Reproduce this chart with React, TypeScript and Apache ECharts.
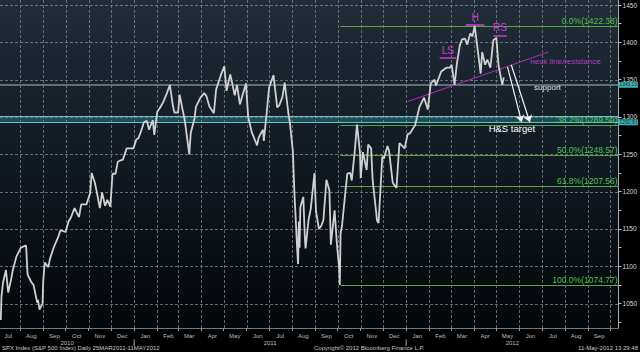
import React, { useEffect, useRef } from "react";
import * as echarts from "echarts";

// ---- price data (S&P 500) ----
const priceDates = [
  "2010-07-06","2010-07-07","2010-07-09","2010-07-13","2010-07-16","2010-07-20","2010-07-22","2010-07-27",
  "2010-08-02","2010-08-09","2010-08-11","2010-08-16","2010-08-19","2010-08-24","2010-08-25","2010-08-27","2010-08-30","2010-08-31",
  "2010-09-01","2010-09-03","2010-09-08","2010-09-10","2010-09-15","2010-09-21","2010-09-24","2010-09-28",
  "2010-10-01","2010-10-05","2010-10-08","2010-10-13","2010-10-19","2010-10-22","2010-10-29",
  "2010-11-03","2010-11-05","2010-11-09","2010-11-12","2010-11-16","2010-11-19","2010-11-23","2010-11-26","2010-11-30",
  "2010-12-03","2010-12-07","2010-12-10","2010-12-14","2010-12-17","2010-12-22","2010-12-28","2010-12-31",
  "2011-01-04","2011-01-07","2011-01-12","2011-01-14","2011-01-18","2011-01-21","2011-01-26","2011-01-28",
  "2011-02-01","2011-02-04","2011-02-09","2011-02-14","2011-02-18","2011-02-22","2011-02-24",
  "2011-03-01","2011-03-03","2011-03-07","2011-03-10","2011-03-16","2011-03-18","2011-03-23","2011-03-25","2011-03-31",
  "2011-04-05","2011-04-08","2011-04-12","2011-04-18","2011-04-21","2011-04-27",
  "2011-05-02","2011-05-05","2011-05-10","2011-05-16","2011-05-19","2011-05-23","2011-05-27","2011-05-31",
  "2011-06-03","2011-06-08","2011-06-15","2011-06-17","2011-06-20","2011-06-23","2011-06-24","2011-06-28",
  "2011-07-01","2011-07-07","2011-07-12","2011-07-15","2011-07-19","2011-07-22","2011-07-27","2011-07-29",
  "2011-08-02","2011-08-04","2011-08-08","2011-08-09","2011-08-10","2011-08-11","2011-08-12","2011-08-16","2011-08-18","2011-08-19","2011-08-23","2011-08-26","2011-08-31",
  "2011-09-02","2011-09-06","2011-09-09","2011-09-12","2011-09-16","2011-09-20","2011-09-22","2011-09-27","2011-09-30",
  "2011-10-03","2011-10-04","2011-10-05","2011-10-07","2011-10-11","2011-10-14","2011-10-18","2011-10-20","2011-10-24","2011-10-27","2011-10-31",
  "2011-11-01","2011-11-04","2011-11-09","2011-11-11","2011-11-15","2011-11-17","2011-11-23","2011-11-25","2011-11-30",
  "2011-12-02","2011-12-07","2011-12-09","2011-12-14","2011-12-19","2011-12-23","2011-12-30",
  "2012-01-03","2012-01-06","2012-01-13","2012-01-19","2012-01-25","2012-01-30",
  "2012-02-03","2012-02-08","2012-02-10","2012-02-17","2012-02-24","2012-02-29",
  "2012-03-02","2012-03-06","2012-03-09","2012-03-13","2012-03-16","2012-03-20","2012-03-23","2012-03-27","2012-03-30",
  "2012-04-02","2012-04-05","2012-04-10","2012-04-12","2012-04-16","2012-04-19","2012-04-23","2012-04-27",
  "2012-05-01","2012-05-04","2012-05-09","2012-05-11",
];
const priceValues = [
  1028,1060,1078,1095,1065,1083,1094,1113,
  1125,1128,1089,1079,1075,1051,1055,1042,1048,1049,
  1080,1105,1099,1110,1125,1139,1148,1147,
  1146,1160,1165,1178,1166,1183,1183,
  1198,1225,1213,1199,1178,1199,1181,1189,1180,
  1224,1224,1240,1242,1243,1258,1258,1258,
  1270,1272,1286,1293,1295,1283,1296,1276,
  1307,1311,1320,1332,1343,1315,1306,
  1306,1330,1310,1295,1250,1279,1298,1314,1326,
  1332,1328,1314,1305,1337,1355,
  1368,1335,1357,1329,1343,1317,1331,1345,
  1300,1279,1262,1272,1278,1283,1268,1307,
  1339,1356,1313,1316,1327,1346,1305,1292,
  1254,1200,1119,1103,1160,1125,1179,1193,1140,1124,1162,1177,1225,
  1174,1150,1154,1162,1216,1202,1129,1175,1131,
  1099,1075,1144,1155,1195,1224,1225,1215,1254,1290,1253,
  1218,1253,1229,1263,1258,1216,1161,1158,1247,
  1244,1261,1255,1212,1205,1265,1258,
  1277,1278,1289,1314,1326,1310,
  1345,1350,1342,1361,1366,1366,
  1370,1343,1371,1396,1404,1405,1397,1412,1408,
  1422,1398,1358,1387,1370,1377,1366,1403,
  1406,1369,1343,1353,
];

// ---- fibonacci retracement levels ----
const fibLabels = ["0.0%", "38.2%", "50.0%", "61.8%", "100.0%"];
const fibValues = [1422.38, 1289.59, 1248.57, 1207.56, 1074.77];
const fibStart = "2011-10-04";

// ---- axis ticks / labels ----
const yTickLabels = [1050, 1100, 1150, 1200, 1250, 1300, 1350, 1400, 1450];
const yMinorTicks = [1025, 1050, 1075, 1100, 1125, 1150, 1175, 1200, 1225, 1250, 1275, 1300, 1325, 1350, 1375, 1400, 1425, 1450];
const monthLabels = [
  "Jul","Aug","Sep","Oct","Nov","Dec",
  "Jan","Feb","Mar","Apr","May","Jun","Jul","Aug","Sep","Oct","Nov","Dec",
  "Jan","Feb","Mar","Apr","May","Jun","Jul","Aug","Sep",
];
const yearLabels = ["2010", "2011", "2012"];
const X_MIN = "2010-07-05";
const X_MAX = "2012-10-12";
const Y_MIN = 1017.4;
const Y_MAX = 1456.7;

// ---- horizontal levels ----
const supportLevel = 1343.13;
const bandLow = 1292.9;
const bandHigh = 1301.0;
const lastPrice = 1353.39;

// ---- annotations (data coordinates) ----
const necklineStart: [string, number] = ["2012-01-04", 1321];
const necklineEnd: [string, number] = ["2012-07-10", 1387];
const shoulderNames = ["LS", "H", "RS"];
const shoulderStarts = ["2012-02-15", "2012-03-21", "2012-04-27"];
const shoulderEnds = ["2012-03-08", "2012-04-15", "2012-05-15"];
const shoulderLevels = [1379, 1423, 1408.5];
const arrowStarts: [string, number][] = [["2012-05-16", 1367], ["2012-05-21", 1370]];
const arrowEnds: [string, number][] = [["2012-06-04", 1293], ["2012-06-15", 1293]];

const ts = (s: string) => {
  const [y, m, d] = s.split("-").map(Number);
  return new Date(y, m - 1, d).getTime();
};

export default function App() {
  const ref = useRef<HTMLDivElement>(null);
  useEffect(() => {
    document.body.style.margin = "0";
    const chart = echarts.init(ref.current!, null, { renderer: "svg" });
    const font = "Liberation Sans";
    const green = "#4cc24c";
    const fibLine = "#55a84a";
    const magenta = "#d13ad6";
    const gridColor = "#7e8993";
    const data = priceDates.map((d, i) => [ts(d), priceValues[i]]);
    // month boundaries within the x range (from the month label list)
    const monthStarts = monthLabels.map((_, i) => new Date(2010, 7 + i, 1).getTime()).filter((t) => t < ts(X_MAX));
    const boxLabel = (text: string, bg: string, fg: string, extra: any = {}) => ({
      show: true, position: "end", distance: 0, formatter: text,
      color: fg, backgroundColor: bg, fontSize: 4.8, fontFamily: font, padding: [1, 1, 0, 1], ...extra,
    });

    const option: any = {
      animation: false,
      backgroundColor: "#000",
      color: ["#cccccc"],
      grid: {
        left: 0, top: 0, right: 19, bottom: 24, show: true, borderWidth: 0,
        backgroundColor: new echarts.graphic.LinearGradient(0, 0, 0, 1, [
          { offset: 0, color: "#212d38" },
          { offset: 0.5, color: "#111921" },
          { offset: 1, color: "#04070a" },
        ]),
      },
      xAxis: {
        type: "time",
        min: ts(X_MIN), max: ts(X_MAX),
        axisLine: { show: true, lineStyle: { color: "#777", width: 1 } },
        axisTick: { show: true, length: 3, customValues: monthStarts, lineStyle: { color: "#999" } },
        axisLabel: { show: false },
        splitLine: { show: false },
      },
      yAxis: {
        type: "value", position: "right", min: Y_MIN, max: Y_MAX,
        axisLine: { show: true, lineStyle: { color: "#a9adb1", width: 1 } },
        axisTick: { show: true, length: 3, customValues: yMinorTicks, lineStyle: { color: "#bbb" } },
        axisLabel: { customValues: yTickLabels, formatter: (v: number) => String(Math.round(v)), color: "#d6d6d6", fontSize: 6.5, fontFamily: font, margin: 4 },
        splitLine: { show: false },
      },
      series: [
        {
          name: "hgrid", type: "custom", z: 1, silent: true, clip: false,
          data: yTickLabels.map((v) => [ts(X_MIN), v]),
          renderItem: (params: any, api: any) => {
            const cs = params.coordSys;
            const y = Math.round(api.coord([api.value(0), api.value(1)])[1]) + 0.5;
            return { type: "line", shape: { x1: cs.x, y1: y, x2: cs.x + cs.width, y2: y }, style: { stroke: gridColor, lineWidth: 1, lineDash: [3, 2], opacity: 0.75 } };
          },
        },
        {
          name: "vgrid", type: "custom", z: 1, silent: true, clip: false,
          data: monthStarts.map((t) => [t, Y_MIN]),
          renderItem: (params: any, api: any) => {
            const cs = params.coordSys;
            const x = Math.round(api.coord([api.value(0), api.value(1)])[0]) + 0.5;
            return { type: "line", shape: { x1: x, y1: cs.y, x2: x, y2: cs.y + cs.height }, style: { stroke: gridColor, lineWidth: 1, lineDash: [3, 2], opacity: 0.75 } };
          },
        },
        {
          name: "band", type: "line", data: [], z: 2, silent: true,
          markArea: {
            silent: true,
            itemStyle: { color: "rgba(55,150,160,0.38)" },
            data: [[{ yAxis: bandLow }, { yAxis: bandHigh }]],
          },
          markLine: {
            silent: true, symbol: ["none", "none"],
            lineStyle: { color: "#5ec8c8", type: "solid", width: 1.2 },
            data: [
              { yAxis: bandLow, lineStyle: { color: "#5ec8c8", type: "solid", width: 1.2 }, label: boxLabel(bandLow.toFixed(2), "#3fb0b0", "#0b3b3d") },
              { yAxis: bandHigh, lineStyle: { color: "#5ec8c8", type: "solid", width: 1.2 }, label: { show: false } },
            ],
          },
        },
        {
          name: "fib", type: "custom", z: 3, silent: true, clip: false,
          data: fibValues.map((v, i) => [ts(fibStart), v, i]),
          renderItem: (params: any, api: any) => {
            const cs = params.coordSys;
            const p = api.coord([api.value(0), api.value(1)]);
            const y = Math.round(p[1]) + 0.5;
            const i = api.value(2);
            const right = cs.x + cs.width;
            return {
              type: "group",
              children: [
                { type: "line", shape: { x1: Math.round(p[0]) + 0.5, y1: y, x2: right, y2: y }, style: { stroke: fibLine, lineWidth: 1 } },
                {
                  type: "text",
                  style: {
                    text: `${fibLabels[i]}(${fibValues[i].toFixed(2)})`, x: right - 1, y: y - 1.5,
                    fill: green, fontSize: 8.5, fontFamily: font, textAlign: "right", textVerticalAlign: "bottom",
                  },
                },
              ],
            };
          },
        },
        {
          name: "support", type: "line", data: [], z: 3, silent: true,
          markLine: {
            silent: true, symbol: ["none", "none"],
            lineStyle: { color: "#6f8b8e", type: "solid", width: 1.5 },
            data: [{
              yAxis: supportLevel,
              lineStyle: { color: "#6f8b8e", type: "solid", width: 1.5 },
              label: boxLabel(supportLevel.toFixed(2), "#3fb0b0", "#0b3b3d"),
            }],
          },
        },
        {
          name: "last", type: "line", data: [], z: 3, silent: true,
          markLine: {
            silent: true, symbol: ["none", "none"],
            lineStyle: { opacity: 0 },
            data: [{
              yAxis: lastPrice,
              lineStyle: { opacity: 0 },
              label: boxLabel(lastPrice.toFixed(2), "#f2f2f2", "#222", { offset: [0, -4] }),
            }],
          },
        },
        {
          name: "SPX", type: "line", data, z: 5, showSymbol: false, silent: true,
          lineStyle: { color: "#d0d0d0", width: 1.8 },
        },
        {
          name: "pattern", type: "line", data: [], z: 6, silent: true,
          markLine: {
            silent: true, symbol: ["none", "none"],
            data: [
              [
                { coord: [ts(necklineStart[0]), necklineStart[1]], lineStyle: { color: "#b02cc0", width: 1, type: "solid" }, label: { show: false } },
                { coord: [ts(necklineEnd[0]), necklineEnd[1]] },
              ],
              ...shoulderNames.map((n, i) => [
                {
                  coord: [ts(shoulderStarts[i]), shoulderLevels[i]],
                  lineStyle: { color: magenta, width: 1.5, type: "solid" },
                  label: { show: true, formatter: n, position: "insideMiddleTop", distance: 3, color: magenta, fontSize: 10, fontFamily: font },
                },
                { coord: [ts(shoulderEnds[i]), shoulderLevels[i]] },
              ]),
            ],
          },
          markPoint: {
            silent: true, symbol: "circle", symbolSize: 1,
            itemStyle: { color: "rgba(0,0,0,0)" },
            data: [
              { coord: [ts("2012-06-15"), 1375], label: { show: true, position: "right", distance: 0, formatter: "neck line/resistance", color: "#b63bc6", fontSize: 8, fontFamily: font } },
              { coord: [ts("2012-06-20"), 1339], label: { show: true, position: "right", distance: 0, formatter: "support", color: "#e0e0e0", fontSize: 8, fontFamily: font } },
              { coord: [ts("2012-04-20"), 1284], label: { show: true, position: "right", distance: 0, formatter: "H&S target", color: "#ffffff", fontSize: 9.5, fontFamily: font } },
            ],
          },
        },
        {
          name: "arrows", type: "line", data: [], z: 7, silent: true,
          markLine: {
            silent: true, symbol: ["none", "arrow"], symbolSize: 7,
            label: { show: false },
            data: arrowStarts.map((s, i) => [
              { coord: [ts(s[0]), s[1]], lineStyle: { color: "#f4f4f4", width: 1.2, type: "solid" } },
              { coord: [ts(arrowEnds[i][0]), arrowEnds[i][1]] },
            ]),
          },
        },
      ],
    };
    chart.setOption(option);

    // month / year labels placed with the x scale
    const px = (t: number) => chart.convertToPixel({ xAxisIndex: 0 }, t) as number;
    const graphics: any[] = [];
    monthLabels.forEach((m, i) => {
      const mid = new Date(2010, 6 + i, 16).getTime();
      graphics.push({
        type: "text", silent: true,
        style: { text: m, x: px(mid), y: 336, fill: "#bdbdbd", fontSize: 6, fontFamily: font, textAlign: "center", textVerticalAlign: "middle" },
      });
    });
    const left = px(ts(X_MIN));
    const right = px(ts(X_MAX));
    const y2011 = px(new Date(2011, 0, 1).getTime());
    const y2012 = px(new Date(2012, 0, 1).getTime());
    const yearCenters = [(left + y2011) / 2, (y2011 + y2012) / 2, (y2012 + right) / 2];
    yearLabels.forEach((y, i) => {
      graphics.push({
        type: "text", silent: true,
        style: { text: y, x: yearCenters[i], y: 342.5, fill: "#bdbdbd", fontSize: 6, fontFamily: font, textAlign: "center", textVerticalAlign: "middle" },
      });
    });
    [y2011, y2012].forEach((x) => {
      graphics.push({ type: "line", silent: true, shape: { x1: x, y1: 339.5, x2: x, y2: 346 }, style: { stroke: "#aaa", lineWidth: 1 } });
    });
    graphics.push(
      { type: "text", silent: true, style: { text: "SPX Index (S&P 500 Index) Daily 25MAR2011-11MAY2012", x: 2, y: 347.5, fill: "#c8c8c8", fontSize: 6, fontFamily: font, textAlign: "left", textVerticalAlign: "middle" } },
      { type: "text", silent: true, style: { text: "Copyright© 2012 Bloomberg Finance L.P.", x: 314, y: 347.5, fill: "#c8c8c8", fontSize: 6, fontFamily: font, textAlign: "left", textVerticalAlign: "middle" } },
      { type: "text", silent: true, style: { text: "11-May-2012 13:29:48", x: 638, y: 347.5, fill: "#c8c8c8", fontSize: 6, fontFamily: font, textAlign: "right", textVerticalAlign: "middle" } },
    );
    chart.setOption({ graphic: graphics });

    return () => chart.dispose();
  }, []);
  return <div ref={ref} style={{ width: 640, height: 352, background: "#000" }} />;
}
